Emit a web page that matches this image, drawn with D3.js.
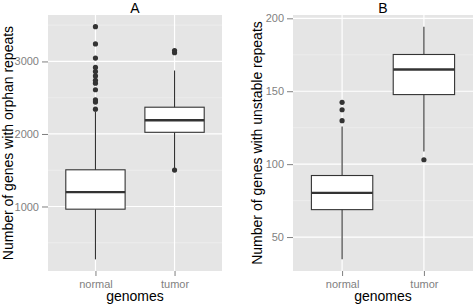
<!DOCTYPE html>
<html>
<head>
<meta charset="utf-8">
<script src="https://cdn.jsdelivr.net/npm/d3@7"></script>
<style>
  body { margin: 0; background: #fff; }
  text { font-family: "Liberation Sans", Arial, sans-serif; }
</style>
</head>
<body>
<script>
// values (box summaries per genome group)
let categories = ['normal', 'tumor'];

// panel A: genes with orphan repeats
let orphanLow = [271, 1530];
let orphanQ1 = [963, 2023];
let orphanMedian = [1198, 2189];
let orphanQ3 = [1506, 2369];
let orphanHigh = [2310, 2875];
let orphanOutliers = [
    [2342, 2440, 2470, 2610, 2700, 2740, 2800, 2860, 2917, 3047, 3241, 3480],
    [1502, 3120, 3150]
];
let orphanTicks = [1000, 2000, 3000];
let orphanMinor = [500, 1500, 2500, 3500];

// panel B: genes with unstable repeats
let unstableLow = [34.7, 108.7];
let unstableQ1 = [68.8, 147.7];
let unstableMedian = [80.3, 164.9];
let unstableQ3 = [92.2, 175.2];
let unstableHigh = [125.9, 194.3];
let unstableOutliers = [
    [129.8, 137.3, 142.4],
    [103]
];
let unstableTicks = [50, 100, 150, 200];
let unstableMinor = [75, 125, 175];

let svg = d3.select('body').append('svg')
    .attr('width', 473)
    .attr('height', 305);

function drawPanel(p) {
    let g = svg.append('g');

    let boxes = categories.map((c, i) => ({
        cat: c, pos: i + 1,
        low: p.low[i], q1: p.q1[i], med: p.med[i], q3: p.q3[i], high: p.high[i],
        out: p.out[i]
    }));

    // ggplot style 5% expansion of the data range
    let all = d3.merge(boxes.map(b => [b.low, b.high].concat(b.out)));
    let ext = d3.extent(all);
    let pad = (ext[1] - ext[0]) * 0.05;

    let y = d3.scaleLinear()
        .domain([ext[0] - pad, ext[1] + pad])
        .range([p.bottom, p.top]);
    let x = d3.scaleLinear()
        .domain([0.4, 2.6])
        .range([p.left, p.right]);

    g.append('rect')
        .attr('x', p.left).attr('y', p.top)
        .attr('width', p.right - p.left).attr('height', p.bottom - p.top)
        .style('fill', '#e5e5e5');

    // grid
    g.selectAll('.minor').data(p.minor).enter().append('line')
        .attr('x1', p.left).attr('x2', p.right)
        .attr('y1', d => y(d)).attr('y2', d => y(d))
        .style('stroke', '#f2f2f2').style('stroke-width', 0.6);
    g.selectAll('.major').data(p.ticks).enter().append('line')
        .attr('x1', p.left).attr('x2', p.right)
        .attr('y1', d => y(d)).attr('y2', d => y(d))
        .style('stroke', '#fff').style('stroke-width', 1.2);
    g.selectAll('.vgrid').data(boxes).enter().append('line')
        .attr('x1', d => x(d.pos)).attr('x2', d => x(d.pos))
        .attr('y1', p.top).attr('y2', p.bottom)
        .style('stroke', '#fff').style('stroke-width', 1.2);

    // axes
    let yAxis = g.append('g')
        .attr('transform', 'translate(' + p.left + ',0)')
        .call(d3.axisLeft(y).tickValues(p.ticks).tickSize(6).tickPadding(3).tickFormat(d3.format('d')));
    let xAxis = g.append('g')
        .attr('transform', 'translate(0,' + p.bottom + ')')
        .call(d3.axisBottom(x).tickValues([1, 2]).tickSize(5).tickPadding(4)
            .tickFormat((d, i) => categories[i]));
    [yAxis, xAxis].forEach(a => {
        a.select('.domain').remove();
        a.selectAll('line').style('stroke', '#7f7f7f');
        a.selectAll('text').style('fill', '#7f7f7f').style('font-size', '11px')
            .style('font-family', '"Liberation Sans", Arial, sans-serif');
    });

    // boxplots
    let bw = x(1.375) - x(1);
    let b = g.selectAll('.box').data(boxes).enter().append('g');
    b.append('line')
        .attr('x1', d => x(d.pos)).attr('x2', d => x(d.pos))
        .attr('y1', d => y(d.low)).attr('y2', d => y(d.high))
        .style('stroke', '#333').style('stroke-width', 1.1);
    b.append('rect')
        .attr('x', d => x(d.pos) - bw).attr('width', bw * 2)
        .attr('y', d => y(d.q3)).attr('height', d => y(d.q1) - y(d.q3))
        .style('fill', '#fff').style('stroke', '#333').style('stroke-width', 1.1);
    b.append('line')
        .attr('x1', d => x(d.pos) - bw).attr('x2', d => x(d.pos) + bw)
        .attr('y1', d => y(d.med)).attr('y2', d => y(d.med))
        .style('stroke', '#333').style('stroke-width', 2.3);
    b.selectAll('circle').data(d => d.out.map(v => ({pos: d.pos, v: v}))).enter()
        .append('circle')
        .attr('cx', d => x(d.pos)).attr('cy', d => y(d.v))
        .attr('r', 2.6)
        .style('fill', '#333');

    // titles
    g.append('text')
        .attr('x', (p.left + p.right) / 2).attr('y', 12.5)
        .attr('text-anchor', 'middle')
        .style('font-size', '14px')
        .text(p.title);
    g.append('text')
        .attr('x', (p.left + p.right) / 2).attr('y', 301)
        .attr('text-anchor', 'middle')
        .style('font-size', '14px')
        .text('genomes');
    g.append('text')
        .attr('transform', 'translate(' + p.ylabX + ',' + (p.top + p.bottom) / 2 + ') rotate(-90)')
        .attr('text-anchor', 'middle')
        .style('font-size', '14px')
        .text(p.ylab);
}

drawPanel({
    title: 'A', ylab: 'Number of genes with orphan repeats', ylabX: 13,
    left: 48, right: 222, top: 15, bottom: 271,
    low: orphanLow, q1: orphanQ1, med: orphanMedian, q3: orphanQ3, high: orphanHigh,
    out: orphanOutliers, ticks: orphanTicks, minor: orphanMinor
});
drawPanel({
    title: 'B', ylab: 'Number of genes with unstable repeats', ylabX: 262,
    left: 293, right: 473, top: 15, bottom: 271,
    low: unstableLow, q1: unstableQ1, med: unstableMedian, q3: unstableQ3, high: unstableHigh,
    out: unstableOutliers, ticks: unstableTicks, minor: unstableMinor
});
</script>
</body>
</html>
